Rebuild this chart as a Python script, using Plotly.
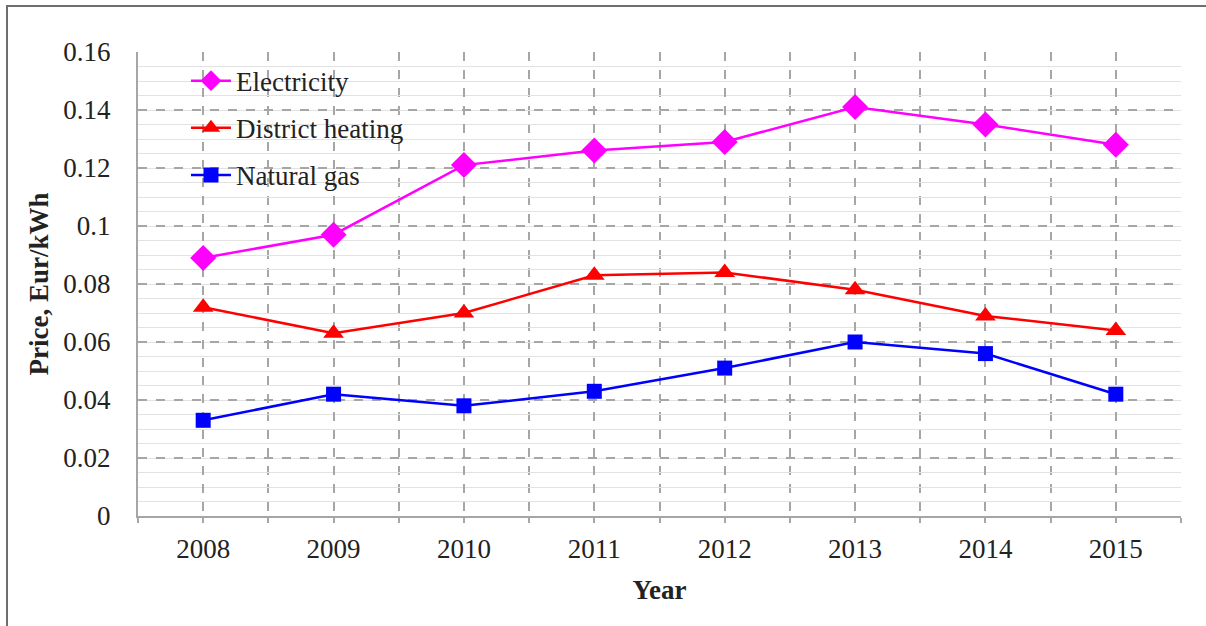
import plotly.graph_objects as go

years = [2008, 2009, 2010, 2011, 2012, 2013, 2014, 2015]
electricity = [0.089, 0.097, 0.121, 0.126, 0.129, 0.141, 0.135, 0.128]
district_heating = [0.072, 0.063, 0.070, 0.083, 0.084, 0.078, 0.069, 0.064]
natural_gas = [0.033, 0.042, 0.038, 0.043, 0.051, 0.060, 0.056, 0.042]

y_ticks = [0, 0.02, 0.04, 0.06, 0.08, 0.1, 0.12, 0.14, 0.16]
y_tick_text = ["0", "0.02", "0.04", "0.06", "0.08", "0.1", "0.12", "0.14", "0.16"]

SERIF = "Liberation Serif"
TEXT = "#222222"
GRID = "#a6a6a6"
FS = 27

series = [
    ("Electricity", electricity, "#ff00ff", "diamond", 20),
    ("District heating", district_heating, "#ff0000", "triangle-up", 18),
    ("Natural gas", natural_gas, "#0000ff", "square", 15),
]

fig = go.Figure()
for i, (name, vals, color, symbol, size) in enumerate(series):
    fig.add_trace(go.Scatter(
        x=years, y=vals, name=name, mode="lines+markers",
        legendgroup=f"g{i}",
        line=dict(color=color, width=2.5),
        marker=dict(color=color, symbol=symbol, size=size, line=dict(width=0)),
    ))

fig.update_layout(
    width=1206, height=626,
    margin=dict(l=138, r=25, t=52, b=110),
    paper_bgcolor="white", plot_bgcolor="white",
    font=dict(family=SERIF, size=FS, color=TEXT),
    showlegend=True,
    legend=dict(
        x=0.046, y=0.99, xanchor="left", yanchor="top",
        bgcolor="rgba(0,0,0,0)", borderwidth=0,
        font=dict(family=SERIF, size=FS, color=TEXT),
        traceorder="grouped", tracegroupgap=9,
        itemwidth=40,
    ),
    xaxis=dict(
        range=[2007.5, 2015.5],
        tickmode="array", tickvals=years, ticktext=[str(y) for y in years],
        showgrid=True, gridcolor=GRID, gridwidth=2, griddash="dash",
        showline=True, linecolor=GRID, linewidth=2,
        ticks="outside", ticklen=5, tickcolor=GRID, tickwidth=2,
        ticklabelstandoff=3,
        minor=dict(dtick=0.5, tick0=2007.5, showgrid=True, gridcolor=GRID,
                   gridwidth=2, griddash="dash", ticks="outside", ticklen=5,
                   tickcolor=GRID, tickwidth=2),
        zeroline=False,
        tickfont=dict(family=SERIF, size=FS, color=TEXT),
        title=dict(text="<b>Year</b>", font=dict(family=SERIF, size=FS, color=TEXT), standoff=17),
    ),
    yaxis=dict(
        range=[0, 0.16],
        tickmode="array", tickvals=y_ticks, ticktext=y_tick_text,
        showgrid=True, gridcolor=GRID, gridwidth=2, griddash="dash",
        showline=True, linecolor=GRID, linewidth=2,
        minor=dict(dtick=0.005, showgrid=True, gridcolor="#e2e2e2", gridwidth=1,
                   griddash="solid"),
        zeroline=False, ticks="", ticklabelstandoff=20,
        tickfont=dict(family=SERIF, size=FS, color=TEXT),
        title=dict(text="<b>Price, Eur/kWh</b>", font=dict(family=SERIF, size=FS, color=TEXT), standoff=7),
    ),
)

# outer frame of the figure; its right and bottom edges lie past the page
fig.add_shape(type="rect", xref="paper", yref="paper",
              x0=-0.1256, x1=1.3, y0=-0.5, y1=1.0991,
              line=dict(color="#6e6e6e", width=2), fillcolor="rgba(0,0,0,0)")

fig.write_html("out.html")
